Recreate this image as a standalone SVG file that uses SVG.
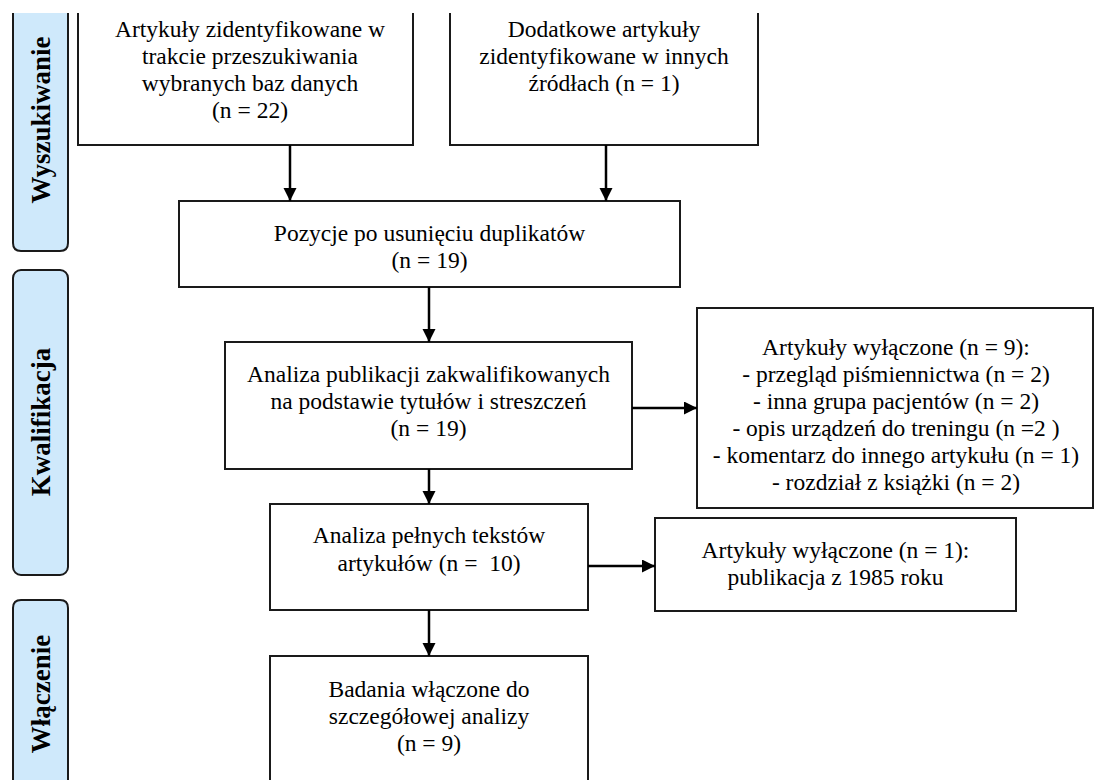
<svg xmlns="http://www.w3.org/2000/svg" width="1095" height="780" viewBox="0 0 1095 780">
<style>
.bar{fill:#cfe9fb;stroke:#1a1a1a;stroke-width:2}
.box{fill:#fff;stroke:#1a1a1a;stroke-width:2}
.lbl{font-family:'Liberation Serif','Times New Roman',serif;font-size:27px;font-weight:700;fill:#000;text-anchor:middle}
.t{font-family:'Liberation Serif','Times New Roman',serif;font-size:23.5px;fill:#000;text-anchor:middle}
.arr{stroke:#000;stroke-width:2.5;fill:none;marker-end:url(#ah)}
</style>
<defs>
<marker id="ah" markerUnits="userSpaceOnUse" markerWidth="14" markerHeight="14" refX="13" refY="6.5" orient="auto">
<path d="M0,0 L13,6.5 L0,13 z" fill="#000"/>
</marker>
</defs>
<rect width="1095" height="780" fill="#fff"/>

<g id="phase-wyszukiwanie">
<path class="bar" d="M13,13 V243 Q13,251 21,251 H60 Q68,251 68,243 V13"/>
<text class="lbl" transform="translate(50,120) rotate(-90)">Wyszukiwanie</text>
</g>
<g id="phase-kwalifikacja">
<rect class="bar" x="13" y="270" width="55" height="305" rx="8"/>
<text class="lbl" transform="translate(50,422) rotate(-90)">Kwalifikacja</text>
</g>
<g id="phase-wlaczenie">
<path class="bar" d="M13,781 V608 Q13,600 21,600 H60 Q68,600 68,608 V781"/>
<text class="lbl" font-size="26" transform="translate(50,694) rotate(-90)">Włączenie</text>
</g>

<g id="identified-db">
<path class="box" d="M78,13 V145 H413 V13"/>
<text class="t" x="250" y="37">Artykuły zidentyfikowane w</text>
<text class="t" x="250" y="64">trakcie przeszukiwania</text>
<text class="t" x="250" y="91">wybranych baz danych</text>
<text class="t" x="250" y="118">(n = 22)</text>
</g>
<g id="identified-other">
<path class="box" d="M450,13 V145 H758 V13"/>
<text class="t" x="604" y="37">Dodatkowe artykuły</text>
<text class="t" x="604" y="64">zidentyfikowane w innych</text>
<text class="t" x="604" y="91">źródłach (n = 1)</text>
</g>
<g id="deduplicated">
<rect class="box" x="179" y="201" width="501" height="86"/>
<text class="t" x="429.5" y="241">Pozycje po usunięciu duplikatów</text>
<text class="t" x="429.5" y="268">(n = 19)</text>
</g>
<g id="screening">
<rect class="box" x="225" y="342" width="407" height="127"/>
<text class="t" x="428.5" y="382">Analiza publikacji zakwalifikowanych</text>
<text class="t" x="428.5" y="409">na podstawie tytułów i streszczeń</text>
<text class="t" x="428.5" y="436">(n = 19)</text>
</g>
<g id="excluded-screening">
<rect class="box" x="697" y="308" width="396" height="200"/>
<text class="t" x="896" y="355">Artykuły wyłączone (n = 9):</text>
<text class="t" x="896" y="382">- przegląd piśmiennictwa (n = 2)</text>
<text class="t" x="896" y="409">- inna grupa pacjentów (n = 2)</text>
<text class="t" x="896" y="436">- opis urządzeń do treningu (n =2 )</text>
<text class="t" x="896" y="463">- komentarz do innego artykułu (n = 1)</text>
<text class="t" x="896" y="490">- rozdział z książki (n = 2)</text>
</g>
<g id="fulltext">
<rect class="box" x="270" y="504" width="318" height="106"/>
<text class="t" x="429" y="543">Analiza pełnych tekstów</text>
<text class="t" x="429" y="571" xml:space="preserve">artykułów (n =  10)</text>
</g>
<g id="excluded-fulltext">
<rect class="box" x="655" y="518" width="361" height="93"/>
<text class="t" x="835.5" y="558">Artykuły wyłączone (n = 1):</text>
<text class="t" x="835.5" y="585">publikacja z 1985 roku</text>
</g>
<g id="included">
<path class="box" d="M270,781 V656 H588 V781"/>
<text class="t" x="429" y="697">Badania włączone do</text>
<text class="t" x="429" y="724">szczegółowej analizy</text>
<text class="t" x="429" y="751">(n = 9)</text>
</g>

<g id="connectors">
<line class="arr" x1="290" y1="145" x2="290" y2="201"/>
<line class="arr" x1="606" y1="145" x2="606" y2="201"/>
<line class="arr" x1="429" y1="287" x2="429" y2="342"/>
<line class="arr" x1="632" y1="408" x2="697" y2="408"/>
<line class="arr" x1="429" y1="469" x2="429" y2="504"/>
<line class="arr" x1="588" y1="566" x2="655" y2="566"/>
<line class="arr" x1="429" y1="610" x2="429" y2="656"/>
</g>
</svg>
